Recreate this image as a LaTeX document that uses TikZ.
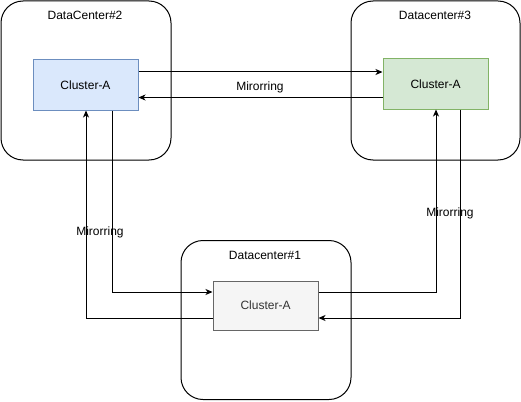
\documentclass[tikz,border=0pt]{standalone}
\usepackage{fontspec}
\setmainfont{Liberation Sans}
\usetikzlibrary{arrows.meta}
\definecolor{bluefill}{HTML}{DAE8FC}
\definecolor{bluedraw}{HTML}{6C8EBF}
\definecolor{greenfill}{HTML}{D5E8D4}
\definecolor{greendraw}{HTML}{82B366}
\definecolor{grayfill}{HTML}{F5F5F5}
\definecolor{graydraw}{HTML}{666666}
\definecolor{graytext}{HTML}{333333}
\begin{document}
\begin{tikzpicture}[x=1pt,y=-1pt,
  dcbox/.style={draw=black, line width=1pt, rounded corners=22pt, fill=white, inner sep=0pt},
  cluster/.style={draw, line width=1pt, minimum width=105pt, minimum height=50pt, inner sep=0pt, font=\fontsize{12}{14}\selectfont},
  lbl/.style={inner sep=0pt, font=\fontsize{12}{14}\selectfont},
  arr/.style={-{Stealth[length=7pt,width=6pt,inset=2pt]}, line width=1pt}]
\useasboundingbox (0,0) rectangle (521,401);
% datacenter boxes
\node[dcbox, minimum width=170pt, minimum height=159pt] (dc2) at (86,80.5) {};
\node[dcbox, minimum width=169pt, minimum height=159pt] (dc3) at (435.5,80.5) {};
\node[dcbox, minimum width=170pt, minimum height=159pt] (dc1) at (266,320) {};
\node[lbl] (dc2l) at (85,15) {DataCenter\#2};
\node[lbl] (dc3l) at (435,15) {Datacenter\#3};
\node[lbl] (dc1l) at (265,255) {Datacenter\#1};
% clusters
\node[cluster, draw=bluedraw, fill=bluefill] (blue) at (85.5,85) {Cluster-A};
\node[cluster, draw=greendraw, fill=greenfill] (green) at (435.5,84) {Cluster-A};
\node[cluster, draw=graydraw, fill=grayfill, text=graytext, minimum height=49pt] (gray) at (265.5,305.5) {Cluster-A};
% connectors
\draw[arr] (blue.east |- 0,72) -- (green.west |- 0,72);
\draw[arr] (green.west |- 0,97.5) -- (blue.east |- 0,97.5);
\draw[arr] (blue.south -| 112,0) |- (gray.west |- 0,292);
\draw[arr] (gray.west |- 0,318) -| (blue.south -| 86,0);
\draw[arr] (gray.east |- 0,292) -| (green.south -| 436,0);
\draw[arr] (green.south -| 460,0) |- (gray.east |- 0,318);
% labels
\node[lbl] (m1) at (260,87) {Mirorring};
\node[lbl] (m2) at (100,232) {Mirorring};
\node[lbl] (m3) at (450,213) {Mirorring};
\end{tikzpicture}
\end{document}
